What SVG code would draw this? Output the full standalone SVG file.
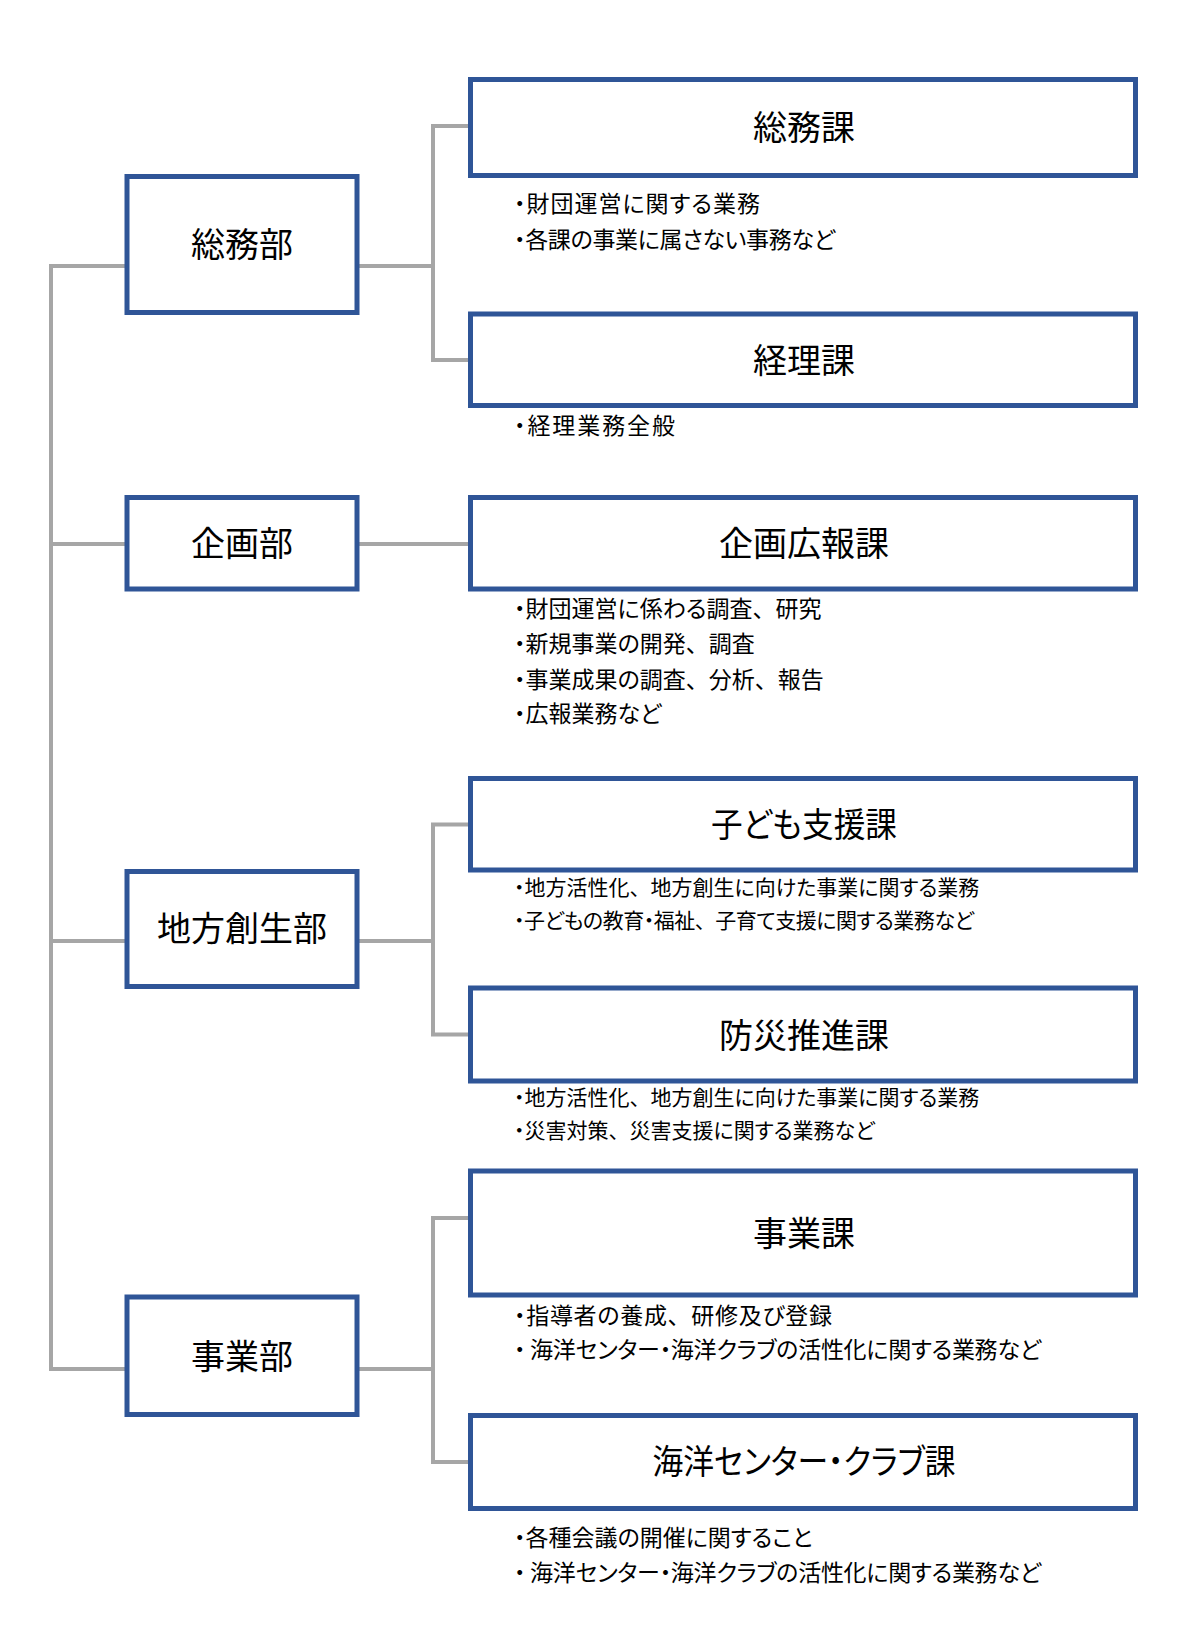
<svg xmlns="http://www.w3.org/2000/svg" width="1200" height="1650" viewBox="0 0 1200 1650">
<style>
  .box { fill: #ffffff; stroke: #2F5597; stroke-width: 5; }
  .conn { fill: none; stroke: #A6A6A6; stroke-width: 4; stroke-linejoin: miter; }
  .lbl { font-family: "Noto Sans CJK JP", "Noto Sans", sans-serif; font-size: 34px; fill: #000000; text-anchor: middle; dominant-baseline: central; font-feature-settings: "palt" 1; }
  .desc { font-family: "Noto Sans CJK JP", "Noto Sans", sans-serif; font-size: 23px; fill: #000000; dominant-baseline: central; font-feature-settings: "palt" 1; }
  .desc.sm { font-size: 21px; }
  .fw { font-feature-settings: "palt" 0; }
</style>
<rect x="0" y="0" width="1200" height="1650" fill="#ffffff"/>
<g id="connectors">
  <path class="conn" d="M127 266 H51 V1369 H127 M51 544 H127 M51 941 H127"/>
  <path class="conn" d="M357 266 H433 M470.5 126 H433 V360 H470.5"/>
  <path class="conn" d="M357 544 H470.5"/>
  <path class="conn" d="M357 941 H433 M470.5 824.5 H433 V1034.5 H470.5"/>
  <path class="conn" d="M357 1369 H433 M470.5 1218 H433 V1462 H470.5"/>
</g>
<g id="dept-somu">
  <rect class="box" x="127" y="176.5" width="230" height="136"/>
  <text class="lbl" x="242" y="242">総務部</text>
</g>
<g id="dept-kikaku">
  <rect class="box" x="127" y="497.5" width="230" height="91.5"/>
  <text class="lbl" x="242" y="541">企画部</text>
</g>
<g id="dept-chiho">
  <rect class="box" x="127" y="871.5" width="230" height="115"/>
  <text class="lbl" x="242" y="926">地方創生部</text>
</g>
<g id="dept-jigyo">
  <rect class="box" x="127" y="1297" width="230" height="117.5"/>
  <text class="lbl" x="242" y="1354">事業部</text>
</g>
<g id="sec-somuka">
  <rect class="box" x="470.5" y="79.5" width="665" height="96"/>
  <text class="lbl" x="804" y="125">総務課</text>
  <text class="desc" x="514" y="202" textLength="246" lengthAdjust="spacing">・財団運営に関する業務</text>
  <text class="desc" x="514" y="238" textLength="321" lengthAdjust="spacing">・各課の事業に属さない事務など</text>
</g>
<g id="sec-keiri">
  <rect class="box" x="470.5" y="314" width="665" height="91.5"/>
  <text class="lbl" x="804" y="358">経理課</text>
  <text class="desc" x="514" y="424" textLength="161" lengthAdjust="spacing">・経理業務全般</text>
</g>
<g id="sec-kikakukoho">
  <rect class="box" x="470.5" y="497.5" width="665" height="91.5"/>
  <text class="lbl" x="804" y="541">企画広報課</text>
  <text class="desc" x="514" y="607">・財団運営に係わる調査<tspan class="fw">、</tspan>研究</text>
  <text class="desc" x="514" y="642">・新規事業の開発<tspan class="fw">、</tspan>調査</text>
  <text class="desc" x="514" y="678">・事業成果の調査<tspan class="fw">、</tspan>分析<tspan class="fw">、</tspan>報告</text>
  <text class="desc" x="514" y="712">・広報業務など</text>
</g>
<g id="sec-kodomo">
  <rect class="box" x="470.5" y="778.5" width="665" height="91.5"/>
  <text class="lbl" x="804" y="822" textLength="186" lengthAdjust="spacingAndGlyphs">子ども支援課</text>
  <text class="desc sm" x="514" y="886">・地方活性化<tspan class="fw">、</tspan>地方創生に向けた事業に関する業務</text>
  <text class="desc sm" x="514" y="919" textLength="460" lengthAdjust="spacing">・子どもの教育・福祉<tspan class="fw">、</tspan>子育て支援に関する業務など</text>
</g>
<g id="sec-bosai">
  <rect class="box" x="470.5" y="988" width="665" height="93"/>
  <text class="lbl" x="804" y="1033">防災推進課</text>
  <text class="desc sm" x="514" y="1096">・地方活性化<tspan class="fw">、</tspan>地方創生に向けた事業に関する業務</text>
  <text class="desc sm" x="514" y="1129">・災害対策<tspan class="fw">、</tspan>災害支援に関する業務など</text>
</g>
<g id="sec-jigyoka">
  <rect class="box" x="470.5" y="1171" width="665" height="124"/>
  <text class="lbl" x="804" y="1231">事業課</text>
  <text class="desc" x="514" y="1314" textLength="318" lengthAdjust="spacing">・指導者の養成<tspan class="fw">、</tspan>研修及び登録</text>
  <text class="desc" x="514" y="1348" textLength="527" lengthAdjust="spacing">・ 海洋センター・海洋クラブの活性化に関する業務など</text>
</g>
<g id="sec-kaiyo">
  <rect class="box" x="470.5" y="1415.5" width="665" height="93"/>
  <text class="lbl" x="804" y="1459" textLength="303" lengthAdjust="spacingAndGlyphs">海洋センター・クラブ課</text>
  <text class="desc" x="514" y="1536">・各種会議の開催に関すること</text>
  <text class="desc" x="514" y="1571" textLength="527" lengthAdjust="spacing">・ 海洋センター・海洋クラブの活性化に関する業務など</text>
</g>
</svg>
